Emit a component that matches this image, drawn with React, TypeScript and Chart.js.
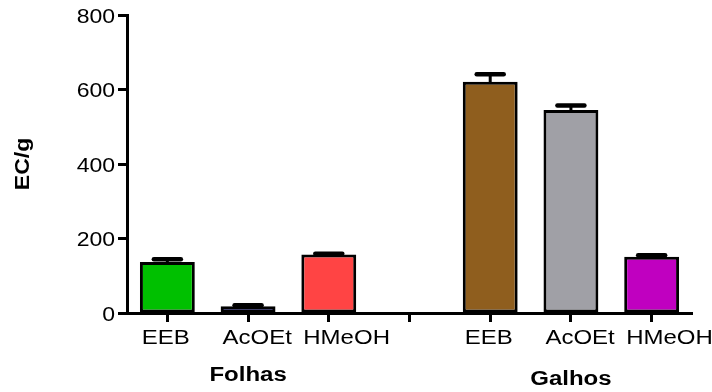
import React, { useEffect, useRef } from 'react';
import { Chart, registerables } from 'chart.js';

Chart.register(...registerables);

const categories = ['EEB', 'AcOEt', 'HMeOH', '', 'EEB', 'AcOEt', 'HMeOH'];
const values: (number | null)[] = [137, 18, 157, null, 621, 545, 151];
const errors = [7, 3, 2, 0, 20, 12, 4];
const barColors = ['#00C000', '#4B4BF2', '#FF4444', 'rgba(0,0,0,0)', '#8F5E1E', '#A0A0A6', '#C000C0'];
const yTickValues = [0, 200, 400, 600, 800];
const groupLabels = ['Folhas', 'Galhos'];
const groupCenterIndex = [1, 5];
const yTitle = 'EC/g';

const FONT = '20px "Liberation Sans", Arial, sans-serif';
const BOLD = 'bold 20px "Liberation Sans", Arial, sans-serif';

function drawText(
  ctx: CanvasRenderingContext2D,
  text: string,
  px: number,
  py: number,
  align: CanvasTextAlign,
  font: string,
  sx: number,
  rot = 0
) {
  ctx.save();
  ctx.translate(px, py);
  if (rot) ctx.rotate(rot);
  ctx.scale(sx, 1);
  ctx.font = font;
  ctx.fillStyle = '#000';
  ctx.textAlign = align;
  ctx.textBaseline = 'middle';
  ctx.fillText(text, 0, 0);
  ctx.restore();
}

const errorBarPlugin = {
  id: 'errorBars',
  afterDatasetsDraw(chart: any) {
    const ctx = chart.ctx as CanvasRenderingContext2D;
    const y = chart.scales.y;
    const meta = chart.getDatasetMeta(0);
    ctx.save();
    ctx.strokeStyle = '#000';
    meta.data.forEach((bar: any, i: number) => {
      const v = values[i];
      if (v == null) return;
      const top = y.getPixelForValue(v + errors[i]);
      const base = y.getPixelForValue(v);
      ctx.lineCap = 'butt';
      ctx.lineWidth = 3;
      ctx.beginPath();
      ctx.moveTo(bar.x, base + 2);
      ctx.lineTo(bar.x, top);
      ctx.stroke();
      ctx.lineCap = 'round';
      ctx.lineWidth = 4.5;
      ctx.beginPath();
      ctx.moveTo(bar.x - 13.5, top);
      ctx.lineTo(bar.x + 13.5, top);
      ctx.stroke();
    });
    ctx.restore();
  },
};

const labelPlugin = {
  id: 'textLabels',
  afterDraw(chart: any) {
    const ctx = chart.ctx as CanvasRenderingContext2D;
    const xs = chart.scales.x;
    const ys = chart.scales.y;
    categories.forEach((c, i) => {
      if (c) drawText(ctx, c, xs.getPixelForValue(i) - 25.5, 338, 'left', FONT, 1.2);
    });
    ys.ticks.forEach((t: any) => {
      drawText(ctx, String(t.value), 115, ys.getPixelForValue(t.value) + 2, 'right', FONT, 1.15);
    });
    groupLabels.forEach((g, k) => {
      drawText(ctx, g, xs.getPixelForValue(groupCenterIndex[k]), k === 0 ? 375 : 379, 'center', BOLD, 1.2);
    });
    drawText(ctx, yTitle, 23, (chart.chartArea.top + chart.chartArea.bottom) / 2, 'center', BOLD, 1.15, -Math.PI / 2);
  },
};

export default function App() {
  const ref = useRef<HTMLCanvasElement>(null);
  useEffect(() => {
    if (!ref.current) return;
    const chart = new Chart(ref.current, {
      type: 'bar',
      data: {
        labels: categories,
        datasets: [
          {
            data: values as any,
            backgroundColor: barColors,
            borderColor: '#000',
            borderWidth: 3,
            borderSkipped: false,
            barPercentage: 0.68,
            categoryPercentage: 1,
          },
        ],
      },
      options: {
        responsive: false,
        animation: false,
        layout: { padding: { top: 15, right: 20, left: 0, bottom: 0 } },
        plugins: { legend: { display: false }, tooltip: { enabled: false } },
        scales: {
          x: {
            type: 'category',
            offset: true,
            grid: {
              display: true,
              drawOnChartArea: false,
              drawTicks: true,
              tickLength: 9,
              tickWidth: 3,
              tickColor: '#000',
              offset: false,
            },
            border: { display: true, color: '#000', width: 3 },
            ticks: { display: false },
            afterFit: (s: any) => {
              s.height = 79;
            },
          },
          y: {
            min: 0,
            max: 800,
            afterBuildTicks: (s: any) => {
              s.ticks = yTickValues.map((v) => ({ value: v }));
            },
            grid: {
              display: true,
              drawOnChartArea: false,
              drawTicks: true,
              tickLength: 9,
              tickWidth: 3,
              tickColor: '#000',
            },
            border: { display: true, color: '#000', width: 3 },
            ticks: { display: false },
            afterFit: (s: any) => {
              s.width = 127;
            },
          },
        },
      },
      plugins: [errorBarPlugin, labelPlugin],
    });
    return () => chart.destroy();
  }, []);
  return (
    <div style={{ position: 'fixed', left: 0, top: 0, width: 712, height: 392, background: '#fff' }}>
      <canvas ref={ref} width={712} height={392} />
    </div>
  );
}
